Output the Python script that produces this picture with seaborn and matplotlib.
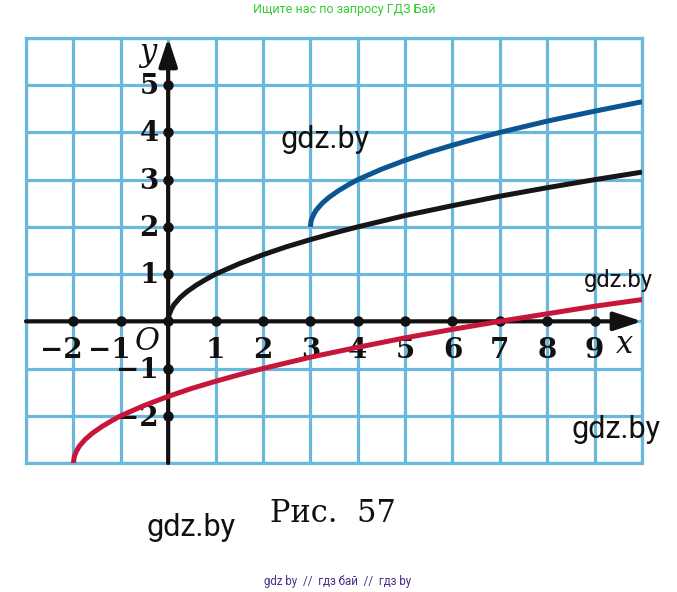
import matplotlib.pyplot as plt
import seaborn as sns

# curve points
black_x = [0, 0.02, 0.06, 0.12, 0.25, 0.4, 0.6, 0.8, 1, 1.5, 2, 2.5, 3, 3.5, 4, 5, 6, 7, 8, 9, 10]
black_y = [0, 0.14, 0.24, 0.35, 0.5, 0.63, 0.77, 0.89, 1, 1.22, 1.41, 1.58, 1.73, 1.87, 2, 2.24,
           2.45, 2.65, 2.83, 3, 3.16]

blue_x = [3, 3.02, 3.06, 3.12, 3.25, 3.4, 3.6, 3.8, 4, 4.5, 5, 5.5, 6, 6.5, 7, 8, 9, 10]
blue_y = [2, 2.14, 2.24, 2.35, 2.5, 2.63, 2.77, 2.89, 3, 3.22, 3.41, 3.58, 3.73, 3.87, 4, 4.24,
          4.45, 4.65]

red_x = [-2, -1.98, -1.94, -1.88, -1.75, -1.6, -1.4, -1.2, -1, -0.5, 0, 0.5, 1, 1.5, 2, 3, 4, 5,
         6, 7, 8, 9, 10]
red_y = [-3, -2.86, -2.76, -2.65, -2.5, -2.37, -2.23, -2.11, -2, -1.78, -1.59, -1.42, -1.27,
         -1.13, -1, -0.76, -0.55, -0.35, -0.17, 0, 0.16, 0.32, 0.46]

x_ticks = [-2, -1, 1, 2, 3, 4, 5, 6, 7, 8, 9]
x_labels = ["\u22122", "\u22121", "1", "2", "3", "4", "5", "6", "7", "8", "9"]
y_ticks = [5, 4, 3, 2, 1, -1, -2]
y_labels = ["5", "4", "3", "2", "1", "\u22121", "\u22122"]

sns.set_style("white")

W, H = 677, 592
fig = plt.figure(figsize=(W / 100, H / 100), dpi=100)
ax = fig.add_axes([26 / W, 1 - 463 / H, 616 / W, 425 / H])
ax.set_xlim(-3, 10)
ax.set_ylim(-3, 6)

grid_c = "#6cb8dc"
ax.set_xticks(range(-3, 11))
ax.set_yticks(range(-3, 7))
ax.grid(True, color=grid_c, lw=2.3, zorder=0)
ax.set_axisbelow(True)
ax.tick_params(length=0, labelbottom=False, labelleft=False)
for s in ax.spines.values():
    s.set_color(grid_c)
    s.set_linewidth(2.3)

# axes with arrows
arr = dict(arrowstyle="-|>,head_length=0.85,head_width=0.28", lw=3, color="#111111",
           mutation_scale=20, shrinkA=0, shrinkB=0)
ax.annotate("", xy=(10, 0), xytext=(-3, 0), arrowprops=arr, annotation_clip=False, zorder=3)
ax.annotate("", xy=(0, 6), xytext=(0, -3), arrowprops=arr, annotation_clip=False, zorder=3)

ax.scatter(x_ticks + [0], [0] * (len(x_ticks) + 1), s=42, color="#111111", zorder=3.5)
ax.scatter([0] * len(y_ticks), y_ticks, s=42, color="#111111", zorder=3.5)

num = dict(family="DejaVu Serif", fontweight="bold", fontsize=20, color="#111111", zorder=2)
for xv, lab in zip(x_ticks, x_labels):
    if xv < 0:
        ax.text(xv + 0.2, -0.62, lab, ha="right", va="center", **num)
    else:
        ax.text(xv, -0.62, lab, ha="center", va="center", **num)
for yv, lab in zip(y_ticks, y_labels):
    if yv < 0:
        ax.text(-0.2, yv - 0.05, lab, ha="right", va="center", **num)
    else:
        ax.text(-0.4, yv - 0.03, lab, ha="center", va="center", **num)

ital = dict(family="DejaVu Serif", style="italic", fontsize=22, color="#111111", zorder=2)
ax.text(-0.44, -0.42, "O", ha="center", va="center", **ital)
ax.text(9.64, -0.5, "x", ha="center", va="center", **ital)
ax.text(-0.44, 5.7, "y", ha="center", va="center", **ital)

# curves
sns.lineplot(x=black_x, y=black_y, ax=ax, color="#161616", lw=3.6, sort=False,
             estimator=None, zorder=4, solid_capstyle="butt")
sns.lineplot(x=blue_x, y=blue_y, ax=ax, color="#0b5592", lw=3.6, sort=False,
             estimator=None, zorder=4, solid_capstyle="butt")
sns.lineplot(x=red_x, y=red_y, ax=ax, color="#c8153a", lw=3.6, sort=False,
             estimator=None, zorder=4, solid_capstyle="round")

# page texts
def px(x, y):
    return x / W, 1 - y / H

wm = dict(family="Roboto", color="#111111", ha="center", va="center")
fig.text(*px(325, 140), "gdz.by", fontsize=22, **wm)
fig.text(*px(618, 281), "gdz.by", fontsize=17, **wm)
fig.text(*px(616, 430), "gdz.by", fontsize=22, **wm)
fig.text(*px(191, 527), "gdz.by", fontsize=22, **wm)

fig.text(*px(344, 9), "Ищите нас по запросу ГДЗ Бай", fontsize=9, color="#33cc33",
         family="Roboto", ha="center", va="center")
fig.text(*px(338, 582), "gdz by  //  гдз бай  //  гдз by", fontsize=8.3, color="#4b2a8a",
         family="Roboto", ha="center", va="center")
fig.text(*px(333, 514), "Рис.  57", fontsize=22, color="#111111", family="DejaVu Serif",
         ha="center", va="center")

fig.savefig("out.png", dpi=100)
